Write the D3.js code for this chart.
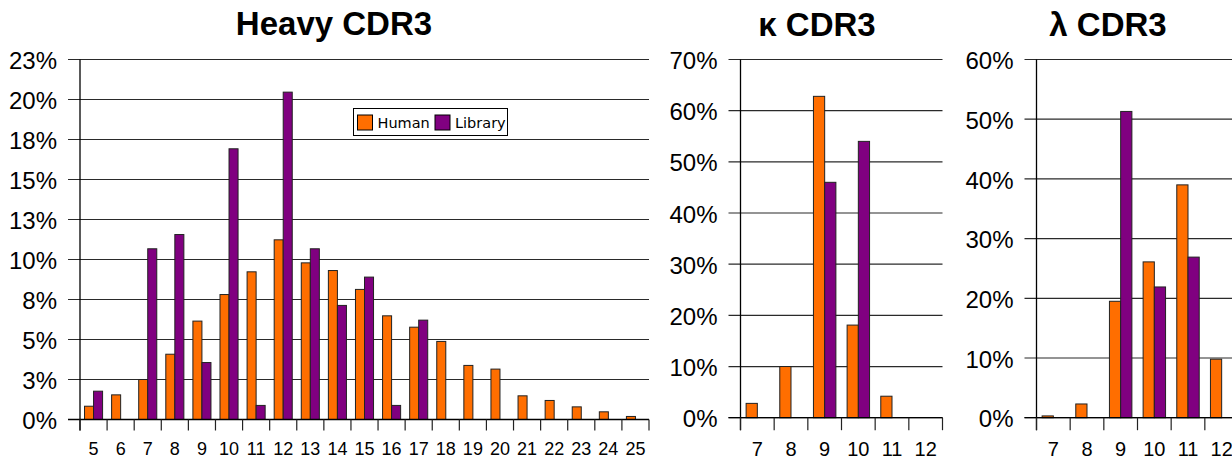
<!DOCTYPE html>
<html>
<head>
<meta charset="utf-8">
<script src="https://cdn.jsdelivr.net/npm/d3@7"></script>
<style>
  html, body { margin: 0; padding: 0; background: #fff; overflow: hidden; }
  svg { display: block; }
</style>
</head>
<body>
<svg id="chart" width="1232" height="462"></svg>
<script>
// ---------- DATA ----------
const seriesNames = ["Human", "Library"];
const seriesColors = ["#FF6E00", "#800080"];

const heavyTitle = "Heavy CDR3";
const heavyCategories = ["5","6","7","8","9","10","11","12","13","14","15","16","17","18","19","20","21","22","23","24","25"];
const heavyHuman   = [0.83, 1.54, 2.5, 4.08, 6.15, 7.81, 9.23, 11.23, 9.79, 9.31, 8.13, 6.48, 5.77, 4.88, 3.38, 3.15, 1.48, 1.19, 0.79, 0.48, 0.19];
const heavyLibrary = [1.77, 0, 10.67, 11.56, 3.56, 16.92, 0.88, 20.46, 10.67, 7.13, 8.9, 0.88, 6.21, 0, 0, 0, 0, 0, 0, 0, 0];
const heavyTicks = [0, 2.5, 5, 7.5, 10, 12.5, 15, 17.5, 20, 22.5];
const heavyTickLabels = ["0%","3%","5%","8%","10%","13%","15%","18%","20%","23%"];

const kappaTitle = "κ CDR3";
const kappaCategories = ["7","8","9","10","11","12"];
const kappaHuman   = [2.8, 10.0, 62.8, 18.1, 4.2, 0];
const kappaLibrary = [0, 0, 46.0, 54.0, 0, 0];
const kappaTicks = [0, 10, 20, 30, 40, 50, 60, 70];
const kappaTickLabels = ["0%","10%","20%","30%","40%","50%","60%","70%"];

const lambdaTitle = "λ CDR3";
const lambdaCategories = ["7","8","9","10","11","12"];
const lambdaHuman   = [0.3, 2.3, 19.5, 26.1, 39.0, 9.8];
const lambdaLibrary = [0, 0, 51.3, 21.9, 26.9, 0];
const lambdaTicks = [0, 10, 20, 30, 40, 50, 60];
const lambdaTickLabels = ["0%","10%","20%","30%","40%","50%","60%"];

// ---------- DRAW ----------
const svg = d3.select("#chart");
const FONT = "'Liberation Sans', Arial, sans-serif";

function drawPanel(opt) {
  const g = svg.append("g");
  const x = d3.scaleBand().domain(opt.categories).range([opt.x0, opt.x1])
    .paddingInner(1/3).paddingOuter(1/6);
  const xs = d3.scaleBand().domain(seriesNames).range([0, x.bandwidth()]).padding(0);
  const y = d3.scaleLinear().domain([0, d3.max(opt.ticks)]).range([opt.y0, opt.y1]);
  const step = x.step();

  // gridlines (incl. left tick stubs)
  g.append("g").selectAll("line").data(opt.ticks).join("line")
    .attr("x1", opt.x0 - 12).attr("x2", opt.x1)
    .attr("y1", d => y(d)).attr("y2", d => y(d))
    .attr("stroke", "#2a2a2a").attr("stroke-width", 1.2);

  // y labels
  const yAxis = d3.axisLeft(y).tickValues(opt.ticks)
    .tickFormat((d, i) => opt.tickLabels[i]).tickSize(12).tickPadding(11);
  const ya = g.append("g").attr("transform", `translate(${opt.x0},0)`).call(yAxis);
  ya.select(".domain").remove();
  ya.selectAll(".tick line").remove();
  ya.selectAll("text").attr("font-family", FONT).attr("font-size", 24).attr("fill", "#000")
    .attr("dy", "0.38em");

  // bars
  const rows = opt.categories.map((c, i) => ({ cat: c, vals: [opt.human[i], opt.library[i]] }));
  const grp = g.append("g").selectAll("g").data(rows).join("g")
    .attr("transform", d => `translate(${x(d.cat)},0)`);
  grp.selectAll("rect").data(d => d.vals.map((v, k) => ({ key: seriesNames[k], v, k })))
    .join("rect")
    .attr("x", d => xs(d.key))
    .attr("width", xs.bandwidth())
    .attr("y", d => y(d.v))
    .attr("height", d => y(0) - y(d.v))
    .attr("fill", d => seriesColors[d.k])
    .attr("stroke", "#222").attr("stroke-width", 1);

  // y axis line
  g.append("line").attr("x1", opt.x0).attr("x2", opt.x0)
    .attr("y1", y(d3.max(opt.ticks))).attr("y2", opt.y0 + opt.tickLen)
    .attr("stroke", "#000").attr("stroke-width", 1.3);
  // x axis line
  g.append("line").attr("x1", opt.x0 - 12).attr("x2", opt.x1)
    .attr("y1", y(0)).attr("y2", y(0))
    .attr("stroke", "#000").attr("stroke-width", 1.3);

  // boundary ticks
  const bounds = opt.categories.map(c => x(c) - step / 6).concat([opt.x1]);
  g.append("g").selectAll("line").data(bounds).join("line")
    .attr("x1", d => d).attr("x2", d => d)
    .attr("y1", y(0)).attr("y2", opt.y0 + opt.tickLen)
    .attr("stroke", "#222").attr("stroke-width", 1.2);

  // x labels
  const xAxis = d3.axisBottom(x).tickSize(0).tickPadding(opt.labelPad);
  const xa = g.append("g").attr("transform", `translate(0,${opt.y0})`).call(xAxis);
  xa.select(".domain").remove();
  xa.selectAll("text").attr("font-family", FONT).attr("font-size", opt.xFont).attr("fill", "#000");

  // title
  g.append("text").attr("x", opt.titleX).attr("y", opt.titleY)
    .attr("text-anchor", "middle").attr("font-family", FONT)
    .attr("font-weight", "bold").attr("font-size", 33).attr("fill", "#000")
    .text(opt.title);
  return g;
}

const heavy = drawPanel({
  title: heavyTitle, categories: heavyCategories, human: heavyHuman, library: heavyLibrary,
  ticks: heavyTicks, tickLabels: heavyTickLabels,
  x0: 80, x1: 649, y0: 419.5, y1: 59.5, tickLen: 11, labelPad: 23, xFont: 18,
  titleX: 334, titleY: 35
});
drawPanel({
  title: kappaTitle, categories: kappaCategories, human: kappaHuman, library: kappaLibrary,
  ticks: kappaTicks, tickLabels: kappaTickLabels,
  x0: 740.5, x1: 942.5, y0: 417.7, y1: 59.5, tickLen: 12.5, labelPad: 24, xFont: 20,
  titleX: 817, titleY: 36
});
drawPanel({
  title: lambdaTitle, categories: lambdaCategories, human: lambdaHuman, library: lambdaLibrary,
  ticks: lambdaTicks, tickLabels: lambdaTickLabels,
  x0: 1036.5, x1: 1238.5, y0: 417.7, y1: 59.5, tickLen: 12.5, labelPad: 24, xFont: 20,
  titleX: 1108, titleY: 36
});

// legend (heavy panel)
const legend = heavy.append("g").attr("transform", "translate(353.5,108.5)");
legend.append("rect").attr("width", 154).attr("height", 27)
  .attr("fill", "#fff").attr("stroke", "#000").attr("stroke-width", 1);
const itemX = [4, 81.5];
const items = legend.selectAll("g.item").data(seriesNames).join("g").attr("class", "item")
  .attr("transform", (d, i) => `translate(${itemX[i]},6.5)`);
items.append("rect").attr("width", 15).attr("height", 15)
  .attr("fill", (d, i) => seriesColors[i]).attr("stroke", "#000").attr("stroke-width", 1);
items.append("text").attr("x", 20).attr("y", 13)
  .attr("font-family", "'DejaVu Sans', Verdana, sans-serif").attr("font-size", 14.5)
  .attr("fill", "#000").text(d => d);
</script>
</body>
</html>
